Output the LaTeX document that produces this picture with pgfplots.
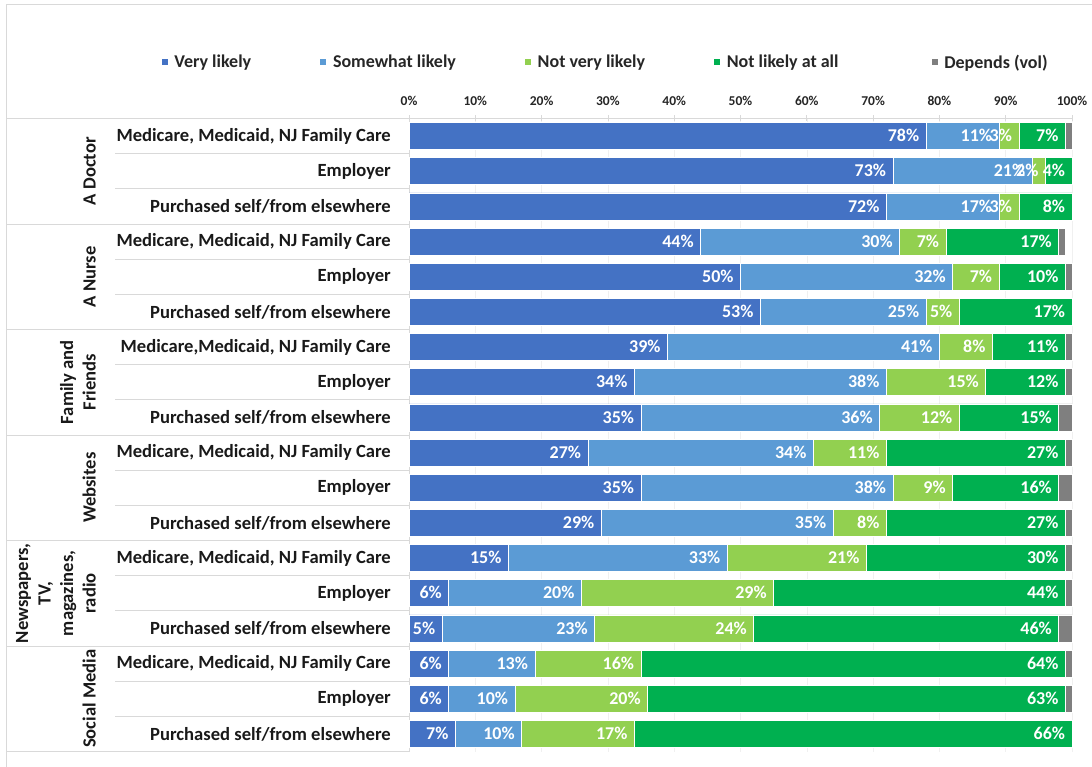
\documentclass[border=0pt]{standalone}
\usepackage{pgfplots}
\pgfplotsset{compat=1.18}
\usepackage{pgfplotstable}
\usepackage{fontspec}
\setmainfont{Carlito}
\definecolor{cVL}{HTML}{4472C4}
\definecolor{cSW}{HTML}{5B9BD5}
\definecolor{cNV}{HTML}{92D050}
\definecolor{cNA}{HTML}{00B050}
\definecolor{cDP}{HTML}{7F7F7F}
\definecolor{lineg}{HTML}{D9D9D9}
\pgfplotstableread{
yy vl sw nv na dp
17 78 11 3  7  1
16 73 21 2  4  0
15 72 17 3  8  0
14 44 30 7  17 1
13 50 32 7  10 1
12 53 25 5  17 0
11 39 41 8  11 1
10 34 38 15 12 1
9  35 36 12 15 2
8  27 34 11 27 1
7  35 38 9  16 2
6  29 35 8  27 1
5  15 33 21 30 1
4  6  20 29 44 1
3  5  23 24 46 2
2  6  13 16 64 1
1  6  10 20 63 1
0  7  10 17 66 0
}\datatable
\newcommand{\bigf}{\bfseries\fontsize{18.6}{22.5}\selectfont}
\newcommand{\medf}{\bfseries\fontsize{18}{22}\selectfont}
\begin{document}
\begin{tikzpicture}[x=1pt,y=1pt]
\useasboundingbox (0,0) rectangle (1092,-767);
\draw[lineg, line width=1pt] (6,-790) -- (6,-5) -- (1110,-5);
\begin{axis}[
  at={(409pt,-118.5pt)}, anchor=north west,
  scale only axis, width=663pt, height=633pt,
  xbar stacked, bar width=27pt,
  xmin=0, xmax=100, ymin=-0.5, ymax=17.5,
  axis x line*=top, axis y line*=left,
  axis line style={lineg, line width=0.8pt},
  /pgf/number format/assume math mode=true,
  xtick={0,10,...,100},
  xticklabel={\pgfmathprintnumber{\tick}\%},
  xticklabel style={font=\bfseries\fontsize{13.5}{15}\selectfont, text=black!85, inner sep=0pt, yshift=10pt},
  major tick length=6pt, tick align=center,
  x tick style={lineg, line width=0.8pt},
  xmajorgrids, grid style={gray!12, line width=0.6pt},
  ytick={0,...,17},
  y tick style={draw=none},
  yticklabels={Purchased self/from elsewhere, Employer, {Medicare, Medicaid, NJ Family Care},
               Purchased self/from elsewhere, Employer, {Medicare, Medicaid, NJ Family Care},
               Purchased self/from elsewhere, Employer, {Medicare, Medicaid, NJ Family Care},
               Purchased self/from elsewhere, Employer, {Medicare,Medicaid, NJ Family Care},
               Purchased self/from elsewhere, Employer, {Medicare, Medicaid, NJ Family Care},
               Purchased self/from elsewhere, Employer, {Medicare, Medicaid, NJ Family Care}},
  yticklabel style={font=\bigf, text=black!90, inner sep=0pt, xshift=-15pt, anchor=east},
  clip=false,
  legend columns=5,
  legend style={at={(axis description cs:-0.375,1.089)}, anchor=west, draw=none, fill=none,
    inner sep=0pt, font=\medf, text=black!85,
    /tikz/every odd column/.append style={column sep=4pt},
    /tikz/every even column/.append style={column sep=66pt}},
  legend image code/.code={\fill[#1] (0pt,-3.5pt) rectangle (7pt,3.5pt);},
]
\addplot[fill=cVL, draw=white, line width=0.8pt] table[x=vl, y=yy] {\datatable};
\addplot[fill=cSW, draw=white, line width=0.8pt] table[x=sw, y=yy] {\datatable};
\addplot[fill=cNV, draw=white, line width=0.8pt] table[x=nv, y=yy] {\datatable};
\addplot[fill=cNA, draw=white, line width=0.8pt] table[x=na, y=yy] {\datatable};
\addplot[fill=cDP, draw=white, line width=0.8pt] table[x=dp, y=yy] {\datatable};
\legend{Very likely, Somewhat likely, Not very likely, Not likely at all\hspace*{24pt}, Depends (vol)}
\end{axis}
% value labels: overlay axis, same frame, labels right-aligned at each segment end
\begin{axis}[
  at={(409pt,-118.5pt)}, anchor=north west,
  scale only axis, width=663pt, height=633pt,
  xmin=-100, xmax=0, ymin=-0.5, ymax=17.5,
  hide axis, clip=false,
  xbar, bar width=27pt, bar shift=0pt,
  point meta=explicit symbolic,
  nodes near coords={\llap{\pgfplotspointmeta\%}},
  every node near coord/.append style={font=\medf, text=white, inner sep=0pt, xshift=-7pt, yshift=-6pt},
]
\addplot[draw=none, fill=none, bar shift=0pt] table[x expr=\thisrow{vl}-100, y=yy, meta=vl] {\datatable};
\addplot[draw=none, fill=none, bar shift=0pt] table[x expr=\thisrow{vl}+\thisrow{sw}-100, y=yy, meta=sw] {\datatable};
\addplot[draw=none, fill=none, bar shift=0pt] table[x expr=\thisrow{vl}+\thisrow{sw}+\thisrow{nv}-100, y=yy, meta=nv] {\datatable};
\addplot[draw=none, fill=none, bar shift=0pt] table[x expr=\thisrow{vl}+\thisrow{sw}+\thisrow{nv}+\thisrow{na}-100, y=yy, meta=na] {\datatable};
\end{axis}
% separators (drawn in picture coordinates matching the axis layout)
\foreach \k in {0,3,6,9,12,15,18}{
  \draw[lineg, line width=0.8pt] (6,{-118.5-\k*35.1667}) -- (409,{-118.5-\k*35.1667});
}
\foreach \k in {1,2,4,5,7,8,10,11,13,14,16,17}{
  \draw[lineg, line width=0.8pt] (115,{-118.5-\k*35.1667}) -- (409,{-118.5-\k*35.1667});
}
\tikzset{grp/.style={rotate=90, anchor=south, align=center, inner sep=0pt, font=\bigf, text=black!90}}
\node[grp] at (96,-171.25) {A Doctor};
\node[grp] at (96,-276.75) {A Nurse};
\node[grp] at (96,-382.25) {Family and\\Friends};
\node[grp] at (96,-487.75) {Websites};
\node[grp] at (96,-593.25) {Newspapers,\\TV,\\magazines,\\radio};
\node[grp] at (96,-698.75) {Social Media};
\end{tikzpicture}
\end{document}
